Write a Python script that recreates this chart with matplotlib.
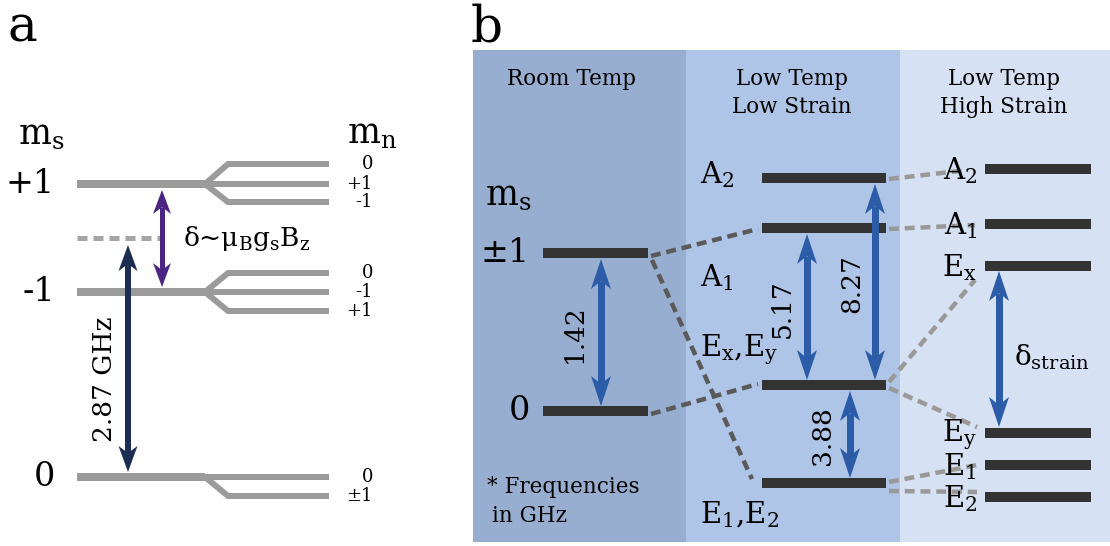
import matplotlib
matplotlib.use("Agg")
import matplotlib.pyplot as plt
from matplotlib.patches import Rectangle, Polygon

plt.rcParams["font.family"] = ["DejaVu Serif"]
plt.rcParams["mathtext.fontset"] = "dejavuserif"

W, H = 1110, 546
PT = 0.72  # points per pixel at 100 dpi

# ---------------- panel a: NV ground state ----------------
a_ms_labels = ["+1", "-1", "0"]
a_ms_y = [184, 292, 477]
a_mn_labels = [["0", "+1", "-1"], ["0", "-1", "+1"], ["0", "±1"]]
a_mn_y = [[164, 184, 202], [273, 292, 311], [477, 496]]
a_virtual_y = 238
a_zfs_label = "2.87 GHz"
a_zeeman_label = r"$\mathrm{\delta}$~$\mathrm{\mu_B g_s B_z}$"

# ---------------- panel b: excited state structure ----------------
b_columns = [["Room Temp"], ["Low Temp", "Low Strain"], ["Low Temp", "High Strain"]]
b_col_edges = [473, 686, 900, 1110]
b_col_colors = ["#98aed0", "#afc5e7", "#d6e1f3"]

room_labels = ["±1", "0"]
room_y = [253, 411]

low_labels = [r"A$_2$", r"A$_1$", r"E$_\mathrm{x}$,E$_\mathrm{y}$", r"E$_1$,E$_2$"]
low_y = [178, 228, 385, 483]
low_label_y = [175, 278, 350, 515]

high_labels = [r"A$_2$", r"A$_1$", r"E$_\mathrm{x}$", r"E$_\mathrm{y}$", r"E$_1$", r"E$_2$"]
high_y = [169, 224, 266, 433, 465, 497]

# transition frequencies (GHz) and the levels each arrow joins
freq_values = [1.42, 5.17, 8.27, 3.88]
freq_x = [601, 807, 875, 850]
freq_upper = [room_y[0], low_y[1], low_y[0], low_y[2]]
freq_lower = [room_y[1], low_y[2], low_y[2], low_y[3]]
freq_label_x = [574, 782, 852, 823]

strain_label = r"$\mathrm{\delta_{strain}}$"

fig = plt.figure(figsize=(W / 100, H / 100), dpi=100)
ax = fig.add_axes([0, 0, 1, 1])
ax.set_xlim(0, W)
ax.set_ylim(H, 0)
ax.axis("off")


def double_arrow(x, y0, y1, color, shaft, half_w, head_len, notch=7):
    """Vertical double-headed arrow between y0 (top tip) and y1 (bottom tip)."""
    ax.plot([x, x], [y0 + head_len - notch, y1 - head_len + notch],
            color=color, lw=shaft * PT, solid_capstyle="butt", zorder=5)
    for tip, s in ((y0, 1), (y1, -1)):
        pts = [(x, tip), (x + half_w, tip + s * head_len),
               (x, tip + s * (head_len - notch)), (x - half_w, tip + s * head_len)]
        ax.add_patch(Polygon(pts, closed=True, color=color, lw=0, zorder=6))


# ---------------- panel a drawing ----------------
ax.text(8, 42, "a", fontsize=36, ha="left", va="baseline")
ax.text(18, 143, r"$\mathrm{m_s}$", fontsize=25, ha="left", va="baseline")
ax.text(347, 143, r"$\mathrm{m_n}$", fontsize=25, ha="left", va="baseline")

grey = "#9b9b9b"
x_start, x_split, x_fan, x_end = 77, 205, 228, 329
for lab, y, mlabs, mys in zip(a_ms_labels, a_ms_y, a_mn_labels, a_mn_y):
    ax.plot([x_start, x_split], [y, y], color=grey, lw=8 * PT,
            solid_capstyle="butt", zorder=2)
    for ml, my in zip(mlabs, mys):
        ax.plot([x_split, x_fan, x_end], [y, my, my], color=grey, lw=6 * PT,
                solid_capstyle="butt", solid_joinstyle="miter", zorder=2)
        ax.text(373, my, ml, fontsize=13, ha="right", va="center")
    ax.text(55, y, lab, fontsize=24, ha="right", va="center")

ax.plot([x_start, 160], [a_virtual_y, a_virtual_y], color="#a5a5a5", lw=5 * PT,
        ls=(0, (2.0, 1.2)), dash_capstyle="butt", zorder=2)

double_arrow(128, a_virtual_y + 7, a_ms_y[2] - 5, "#1b2d50", 6, 9.5, 26)
double_arrow(162, a_ms_y[0] + 6, a_ms_y[1] - 5, "#4a2582", 5, 9, 24)
ax.text(183, 246, a_zeeman_label, fontsize=19, ha="left", va="baseline")
ax.text(104, 379, a_zfs_label, fontsize=19, rotation=90, ha="center", va="center")

# ---------------- panel b drawing ----------------
ax.text(471, 42, "b", fontsize=36, ha="left", va="baseline")

top, bottom = 50, 542
for (x0, x1), c in zip(zip(b_col_edges[:-1], b_col_edges[1:]), b_col_colors):
    ax.add_patch(Rectangle((x0, top), x1 - x0, bottom - top, color=c, lw=0, zorder=0))
for (x0, x1), lines in zip(zip(b_col_edges[:-1], b_col_edges[1:]), b_columns):
    xc = (x0 + x1) / 2 - 8 if x0 == b_col_edges[0] else (x0 + x1) / 2 - 1
    for i, t in enumerate(lines):
        ax.text(xc, 79 + 28 * i, t, fontsize=15.5, ha="center", va="center")

bar = "#333333"
bar_lw = 10 * PT
# room temperature levels
for lab, y in zip(room_labels, room_y):
    ax.plot([543, 648], [y, y], color=bar, lw=bar_lw, solid_capstyle="butt", zorder=3)
    ax.text(530, y, lab, fontsize=24, ha="right", va="center")
ax.text(485, 204, r"$\mathrm{m_s}$", fontsize=25, ha="left", va="baseline")

# low strain levels
for lab, y, ly in zip(low_labels, low_y, low_label_y):
    ax.plot([762, 886], [y, y], color=bar, lw=bar_lw, solid_capstyle="butt", zorder=3)
    ax.text(700, ly, lab, fontsize=21, ha="left", va="center")

# high strain levels
for lab, y in zip(high_labels, high_y):
    ax.plot([985, 1091], [y, y], color=bar, lw=bar_lw, solid_capstyle="butt", zorder=3)
    ax.text(977, y + 2, lab, fontsize=21, ha="right", va="center", zorder=4)

# correlation lines room temp -> low strain
dark_dash = dict(color="#5a5a5a", lw=4.5 * PT, ls=(0, (2.2, 1.3)),
                 dash_capstyle="butt", zorder=2)
ax.plot([651, 758], [room_y[0] + 3, low_y[1] + 1], **dark_dash)
ax.plot([652, 752], [room_y[0] + 7, low_y[3] - 4], **dark_dash)
ax.plot([651, 758], [room_y[1] + 3, low_y[2] - 1], **dark_dash)

# correlation lines low strain -> high strain
light_dash = dict(color="#999999", lw=4.5 * PT, ls=(0, (2.2, 1.3)),
                  dash_capstyle="butt", zorder=2)
ax.plot([889, 968], [low_y[0] + 1, high_y[0] + 1], **light_dash)
ax.plot([889, 975], [low_y[1] + 1, high_y[1] + 1], **light_dash)
ax.plot([889, 975], [low_y[2] - 3, high_y[2] + 14], **light_dash)
ax.plot([889, 977], [low_y[2] + 3, high_y[3] - 6], **light_dash)
ax.plot([889, 977], [low_y[3] - 1, high_y[4]], **light_dash)
ax.plot([889, 977], [low_y[3] + 8, high_y[5] - 5], **light_dash)

# transition arrows with frequencies
blue = "#2c5ca8"
for f, x, yu, yl, lx in zip(freq_values, freq_x, freq_upper, freq_lower, freq_label_x):
    double_arrow(x, yu + 6, yl - 5, blue, 7, 10, 30, notch=8)
    ax.text(lx, (yu + yl) / 2 + 2, f"{f:.2f}", fontsize=19, rotation=90,
            ha="center", va="center")

double_arrow(999, high_y[2] + 5, high_y[3] - 6, blue, 7, 10, 30, notch=8)
ax.text(1014, 357, strain_label, fontsize=20, ha="left", va="center")

ax.text(487, 487, "* Frequencies", fontsize=15.5, ha="left", va="center")
ax.text(492, 516, "in GHz", fontsize=15.5, ha="left", va="center")

fig.savefig("out.png", dpi=100)
